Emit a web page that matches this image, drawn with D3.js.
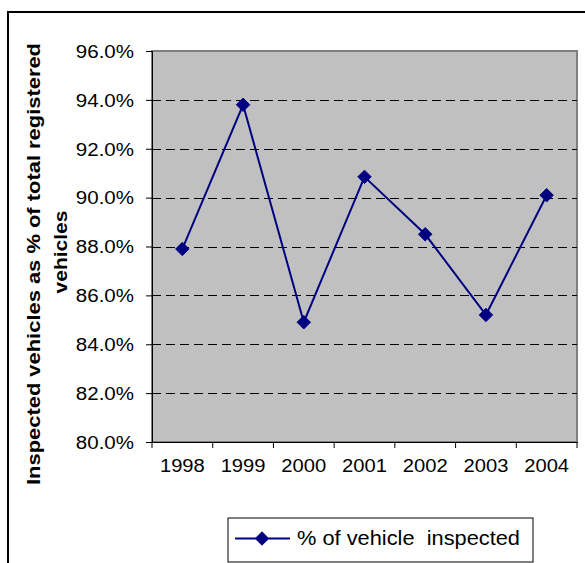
<!DOCTYPE html>
<html>
<head>
<meta charset="utf-8">
<script src="https://cdn.jsdelivr.net/npm/d3@7"></script>
<style>
  html, body { margin: 0; padding: 0; background: #fff; }
  svg { display: block; font-family: Arial, "Liberation Sans", sans-serif; }
</style>
</head>
<body>
<svg id="chart" width="585" height="563"></svg>
<script>
// Inspection coverage by year
const years = ["1998", "1999", "2000", "2001", "2002", "2003", "2004"];
const inspectedPct = [87.9, 93.8, 84.9, 90.85, 88.5, 85.2, 90.1];
const yTicks = [80, 82, 84, 86, 88, 90, 92, 94, 96];
const seriesName = "% of vehicle  inspected";
const axisTitleLines = ["Inspected vehicles as % of total registered", "vehicles"];

const svg = d3.select("#chart");
const W = 585, H = 563;
const plot = { left: 152, top: 51, right: 577, bottom: 442 };
const navy = "#000080";
const FONT = "Arial, 'Liberation Sans', sans-serif";

// widen text glyphs by a factor (the chart's fonts are drawn slightly wide)
function widen(sel, factor) {
  sel.each(function () {
    const n = this.getComputedTextLength();
    d3.select(this).attr("textLength", n * factor).attr("lengthAdjust", "spacingAndGlyphs");
  });
}

// outer chart frame (extends past the right and bottom edges)
svg.append("rect")
  .attr("x", 8).attr("y", 12)
  .attr("width", W + 20).attr("height", H + 20)
  .attr("fill", "#fff").attr("stroke", "#000").attr("stroke-width", 2);

const x = d3.scaleBand().domain(years).range([plot.left, plot.right]).padding(0);
const y = d3.scaleLinear().domain([80, 96]).range([plot.bottom, plot.top]);

// plot area
svg.append("rect")
  .attr("x", plot.left).attr("y", plot.top)
  .attr("width", plot.right - plot.left).attr("height", plot.bottom - plot.top)
  .attr("fill", "#c0c0c0").attr("stroke", "#808080").attr("stroke-width", 2);

// dashed gridlines
svg.append("g").selectAll("line")
  .data(yTicks.filter(t => t > 80 && t < 96))
  .join("line")
  .attr("x1", plot.left).attr("x2", plot.right)
  .attr("y1", d => Math.round(y(d)) + 0.5).attr("y2", d => Math.round(y(d)) + 0.5)
  .attr("stroke", "#000").attr("stroke-width", 1)
  .attr("stroke-dasharray", "9,5");

// y axis
const yAxis = svg.append("g")
  .attr("transform", `translate(${plot.left},0)`)
  .call(d3.axisLeft(y).tickValues(yTicks).tickSize(6).tickPadding(12)
    .tickFormat(d => d3.format(".1f")(d) + "%"));
yAxis.select(".domain").attr("stroke", "#000");
yAxis.selectAll(".tick line").attr("stroke", "#000");
yAxis.selectAll("text").attr("font-size", 18).attr("fill", "#000")
  .attr("font-family", FONT).attr("dy", "0.35em");
widen(yAxis.selectAll("text"), 1.14);

// x axis
const xAxis = svg.append("g")
  .attr("transform", `translate(0,${plot.bottom})`)
  .call(d3.axisBottom(x).tickSize(0).tickPadding(17));
xAxis.select(".domain").attr("stroke", "#000");
xAxis.selectAll("text").attr("font-size", 18).attr("fill", "#000")
  .attr("font-family", FONT);
widen(xAxis.selectAll("text"), 1.12);
// category boundary ticks
svg.append("g").selectAll("line")
  .data(years.concat(["end"]))
  .join("line")
  .attr("x1", (d, i) => i < years.length ? x(d) : plot.right)
  .attr("x2", (d, i) => i < years.length ? x(d) : plot.right)
  .attr("y1", plot.bottom).attr("y2", plot.bottom + 6)
  .attr("stroke", "#000");

// series line + diamond markers
const pts = years.map((yr, i) => [x(yr) + x.bandwidth() / 2, y(inspectedPct[i])]);
svg.append("path")
  .attr("d", d3.line()(pts))
  .attr("fill", "none").attr("stroke", navy).attr("stroke-width", 2);
const diamond = d3.symbol().type(d3.symbolDiamond2).size(115);
svg.append("g").selectAll("path")
  .data(pts)
  .join("path")
  .attr("transform", d => `translate(${d[0]},${d[1]})`)
  .attr("d", diamond)
  .attr("fill", navy).attr("stroke", navy);

// y axis title (two lines, rotated)
const titleG = svg.append("g").attr("font-weight", "bold").attr("font-size", 18.5)
  .attr("fill", "#000").attr("font-family", FONT);
titleG.append("text")
  .attr("transform", "translate(40,264) rotate(-90)")
  .attr("text-anchor", "middle")
  .attr("textLength", 442).attr("lengthAdjust", "spacingAndGlyphs")
  .text(axisTitleLines[0]);
titleG.append("text")
  .attr("transform", "translate(67,252) rotate(-90)")
  .attr("text-anchor", "middle")
  .attr("textLength", 83).attr("lengthAdjust", "spacingAndGlyphs")
  .text(axisTitleLines[1]);

// legend
const lg = svg.append("g");
lg.append("rect")
  .attr("x", 228).attr("y", 518).attr("width", 305).attr("height", 44)
  .attr("fill", "#fff").attr("stroke", "#000").attr("stroke-width", 1);
lg.append("line")
  .attr("x1", 235).attr("x2", 290).attr("y1", 538.5).attr("y2", 538.5)
  .attr("stroke", navy).attr("stroke-width", 2);
lg.append("path")
  .attr("transform", "translate(262,538.5)")
  .attr("d", diamond)
  .attr("fill", navy).attr("stroke", navy);
lg.append("text")
  .attr("x", 297).attr("y", 545)
  .attr("font-size", 20).attr("fill", "#000").attr("font-family", FONT)
  .attr("xml:space", "preserve")
  .style("white-space", "pre")
  .attr("textLength", 223).attr("lengthAdjust", "spacingAndGlyphs")
  .text(seriesName);
</script>
</body>
</html>
